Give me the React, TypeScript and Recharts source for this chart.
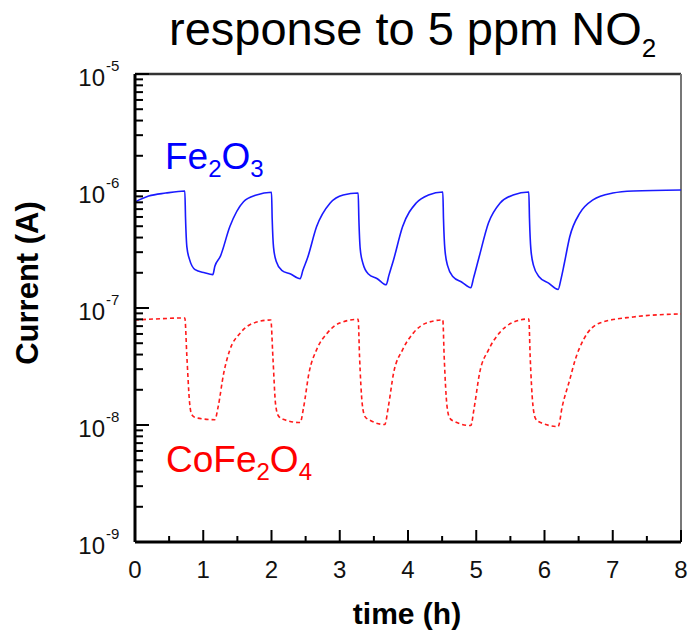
import React from 'react';
import { LineChart, Line, XAxis, YAxis, ReferenceLine } from 'recharts';

// time (h) and current (A)
const fe2o3Time = [
  0, 0.2, 0.45, 0.73, 0.74, 0.76, 0.8, 0.88, 1.02, 1.14, 1.17, 1.25, 1.39, 1.59, 1.78, 2.0,
  2.01, 2.03, 2.07, 2.15, 2.28, 2.42, 2.46, 2.53, 2.66, 2.86, 3.05, 3.27,
  3.28, 3.3, 3.34, 3.42, 3.55, 3.68, 3.72, 3.79, 3.92, 4.12, 4.3, 4.51,
  4.52, 4.54, 4.58, 4.66, 4.79, 4.92, 4.96, 5.04, 5.18, 5.35, 5.54, 5.77,
  5.78, 5.8, 5.84, 5.92, 6.06, 6.2, 6.24, 6.29, 6.37, 6.52, 6.71, 7.0, 7.3, 8.0,
];
const fe2o3Current = [
  8.05e-7, 9.05e-7, 9.6e-7, 1.0e-6, 6.0e-7, 3.33e-7, 2.59e-7, 2.13e-7, 2.0e-7, 1.93e-7, 2.27e-7, 2.76e-7, 4.97e-7, 8.1e-7, 9.25e-7, 9.75e-7,
  5.8e-7, 3.3e-7, 2.5e-7, 2.1e-7, 1.95e-7, 1.78e-7, 2.1e-7, 2.7e-7, 4.94e-7, 7.9e-7, 9.25e-7, 9.6e-7,
  5.8e-7, 3.2e-7, 2.4e-7, 1.95e-7, 1.78e-7, 1.58e-7, 1.9e-7, 2.6e-7, 4.94e-7, 7.9e-7, 9.25e-7, 9.8e-7,
  5.8e-7, 3.2e-7, 2.3e-7, 1.85e-7, 1.66e-7, 1.49e-7, 1.8e-7, 2.7e-7, 5.35e-7, 7.9e-7, 9.25e-7, 9.8e-7,
  5.8e-7, 3.2e-7, 2.3e-7, 1.85e-7, 1.63e-7, 1.44e-7, 1.75e-7, 2.4e-7, 4.06e-7, 6.5e-7, 8.4e-7, 9.6e-7, 1.0e-6, 1.02e-6,
];

const cofe2o4Time = [
  0, 0.3, 0.73, 0.76, 0.8, 0.83, 0.9, 1.17, 1.22, 1.3, 1.39, 1.54, 1.73, 1.99,
  2.02, 2.06, 2.1, 2.17, 2.42, 2.47, 2.55, 2.66, 2.82, 3.0, 3.27,
  3.29, 3.33, 3.37, 3.44, 3.66, 3.71, 3.79, 3.92, 4.08, 4.27, 4.51,
  4.53, 4.57, 4.61, 4.68, 4.92, 4.97, 5.05, 5.18, 5.34, 5.52, 5.77,
  5.79, 5.83, 5.87, 5.94, 6.2, 6.26, 6.37, 6.45, 6.57, 6.81, 7.3, 8.0,
];
const cofe2o4Current = [
  7.9e-8, 8.06e-8, 8.22e-8, 3.85e-8, 1.55e-8, 1.23e-8, 1.15e-8, 1.11e-8, 1.45e-8, 2.78e-8, 4.39e-8, 6.09e-8, 7.41e-8, 7.9e-8,
  3.85e-8, 1.5e-8, 1.2e-8, 1.12e-8, 1.05e-8, 1.41e-8, 2.8e-8, 4.39e-8, 6.13e-8, 7.45e-8, 8.0e-8,
  3.85e-8, 1.5e-8, 1.18e-8, 1.1e-8, 1.01e-8, 1.41e-8, 2.8e-8, 4.39e-8, 6.13e-8, 7.45e-8, 7.9e-8,
  3.85e-8, 1.48e-8, 1.15e-8, 1.07e-8, 9.9e-9, 1.41e-8, 2.8e-8, 4.39e-8, 6.13e-8, 7.45e-8, 8.06e-8,
  3.85e-8, 1.48e-8, 1.13e-8, 1.05e-8, 9.7e-9, 1.44e-8, 2.44e-8, 3.61e-8, 5.34e-8, 7.45e-8, 8.39e-8, 8.9e-8,
];

const timeTicks = [0, 0.5, 1, 1.5, 2, 2.5, 3, 3.5, 4, 4.5, 5, 5.5, 6, 6.5, 7, 7.5, 8];
const decadeTicks = [1e-9, 1e-8, 1e-7, 1e-6, 1e-5];
const decadeExponents = ['-9', '-8', '-7', '-6', '-5'];
const minorSteps = [2, 3, 4, 5, 6, 7, 8, 9];

const currentTicks = [
  ...decadeTicks,
  ...decadeTicks.slice(0, 4).flatMap((d) => minorSteps.map((m) => d * m)),
].sort((a, b) => a - b);

const fe2o3Data = fe2o3Time.map((t, i) => ({ t, v: fe2o3Current[i] }));
const cofe2o4Data = cofe2o4Time.map((t, i) => ({ t, v: cofe2o4Current[i] }));

const FONT = '"Liberation Sans", Arial, Helvetica, sans-serif';

const TimeTick = (props: any) => {
  const { x, y, payload } = props;
  const major = Number.isInteger(payload.value);
  return (
    <g>
      <line x1={x} x2={x} y1={y} y2={y - (major ? 12 : 6)} stroke="#000" strokeWidth={2} />
      {major && (
        <text x={x} y={y + 36} textAnchor="middle" fontSize={24} fill="#111" fontFamily={FONT}>
          {payload.value}
        </text>
      )}
    </g>
  );
};

const CurrentTick = (props: any) => {
  const { x, y, payload } = props;
  const idx = decadeTicks.indexOf(payload.value);
  const major = idx >= 0;
  return (
    <g>
      <line x1={x} x2={x + (major ? 14 : 8)} y1={y} y2={y} stroke="#000" strokeWidth={2} />
      {major && (
        <text fontFamily={FONT} fill="#111">
          <tspan x={x - 30} y={y + 12} fontSize={24} textAnchor="end">10</tspan>
          <tspan x={x - 29} y={y - 3} fontSize={15}>{decadeExponents[idx]}</tspan>
        </text>
      )}
    </g>
  );
};

export default function App() {
  return (
    <div
      style={{
        position: 'absolute',
        left: 0,
        top: 0,
        width: 689,
        height: 632,
        background: '#fff',
        fontFamily: FONT,
      }}
    >
      <LineChart width={689} height={632} margin={{ top: 74, right: 8, bottom: 0, left: 0 }}>
        <XAxis
          type="number"
          dataKey="t"
          domain={[0, 8]}
          ticks={timeTicks}
          interval={0}
          tickSize={0}
          tickMargin={0}
          height={90}
          axisLine={{ stroke: '#000', strokeWidth: 3 }}
          tickLine={false}
          tick={<TimeTick />}
          allowDataOverflow
        />
        <YAxis
          type="number"
          scale="log"
          domain={[1e-9, 1e-5]}
          ticks={currentTicks}
          interval={0}
          tickSize={0}
          tickMargin={0}
          width={135}
          axisLine={{ stroke: '#000', strokeWidth: 3 }}
          tickLine={false}
          tick={<CurrentTick />}
          allowDataOverflow
        />
        <ReferenceLine y={1e-5} stroke="#333" strokeWidth={2.5} />
        <ReferenceLine x={8} stroke="#777" strokeWidth={2} />
        <Line
          data={fe2o3Data}
          dataKey="v"
          type="monotone"
          stroke="#1a1aff"
          strokeWidth={1.6}
          dot={false}
          isAnimationActive={false}
        />
        <Line
          data={cofe2o4Data}
          dataKey="v"
          type="monotone"
          stroke="#ff1a1a"
          strokeWidth={1.6}
          strokeDasharray="4 3"
          dot={false}
          isAnimationActive={false}
        />
      </LineChart>
      <svg
        width={689}
        height={632}
        style={{ position: 'absolute', left: 0, top: 0, pointerEvents: 'none' }}
        fontFamily={FONT}
      >
        <text x={169} y={45} fontSize={47} fill="#000">
          response to 5 ppm NO<tspan fontSize={26} dy={12}>2</tspan>
        </text>
        <text x={165} y={169} fontSize={37} fill="#0000ff">
          Fe<tspan fontSize={24} dy={8}>2</tspan>
          <tspan dy={-8}>O</tspan>
          <tspan fontSize={24} dy={8}>3</tspan>
        </text>
        <text x={166} y={472} fontSize={37} fill="#ff0000">
          CoFe<tspan fontSize={24} dy={8}>2</tspan>
          <tspan dy={-8}>O</tspan>
          <tspan fontSize={24} dy={8}>4</tspan>
        </text>
        <text
          transform="translate(38,283) rotate(-90)"
          textAnchor="middle"
          fontSize={31}
          fontWeight="bold"
          fill="#000"
        >
          Current (A)
        </text>
        <text x={407} y={624} textAnchor="middle" fontSize={30} fontWeight="bold" fill="#000">
          time (h)
        </text>
      </svg>
    </div>
  );
}
